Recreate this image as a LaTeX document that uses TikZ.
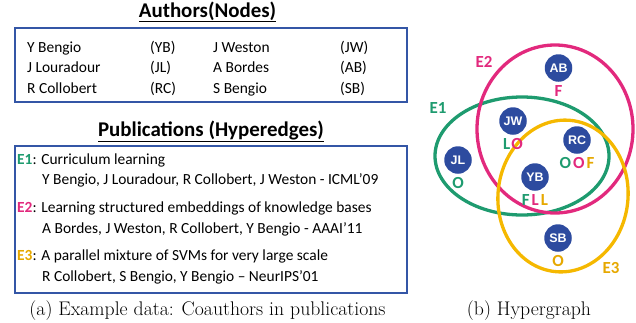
\documentclass[tikz,border=0pt]{standalone}
\usepackage{fontspec}
\usetikzlibrary{positioning}
\newfontfamily\calibri{Carlito}
\newfontfamily\vfont{Liberation Sans}
\definecolor{boxblue}{HTML}{3456A6}
\definecolor{vblue}{HTML}{2D4B9F}
\definecolor{eone}{HTML}{1E9B6F}
\definecolor{etwo}{HTML}{E2297D}
\definecolor{ethree}{HTML}{F5B800}
\definecolor{ethreetxt}{HTML}{E6A800}
\tikzset{
  txt/.style={anchor=base west, inner sep=0pt, font=\calibri\fontsize{15.5}{18}\selectfont},
  ttl/.style={anchor=base, inner sep=0pt, font=\calibri\fontsize{21}{24}\selectfont\bfseries},
  captxt/.style={anchor=base, inner sep=0pt, font=\rmfamily\fontsize{19.8}{22}\selectfont},
  frame/.style={draw=boxblue, line width=2.4bp},
  vert/.style={circle, fill=vblue, minimum size=27.5bp, inner sep=0pt, text=white,
    font=\vfont\fontsize{12.5}{14}\selectfont\bfseries},
  vlab/.style={inner sep=0pt, font=\calibri\fontsize{17}{19}\selectfont\bfseries},
  hedge/.style={line width=3.3bp}
}
\newcommand{\ulined}[1]{\underline{#1}}
\begin{document}
\begin{tikzpicture}[x=1bp, y=-1bp]
\useasboundingbox (0,0) rectangle (636,322);

% ---- authors table
\node[ttl] (atitle) at (207.5,17) {\ulined{Authors(Nodes)}};
\node[frame, minimum width=392bp, minimum height=74bp, anchor=north west, inner sep=0pt] (abox) at (13.5,27) {};
\node[txt] (a1) at (27,52) {Y Bengio};
\node[txt] (a2) at (27,72.5) {J Louradour};
\node[txt] (a3) at (27,93) {R Collobert};
\node[txt] (b1) at (150,52) {(YB)};
\node[txt] (b2) at (150,72.5) {(JL)};
\node[txt] (b3) at (150,93) {(RC)};
\node[txt] (c1) at (213,52) {J Weston};
\node[txt] (c2) at (213,72.5) {A Bordes};
\node[txt] (c3) at (213,93) {S Bengio};
\node[txt] (d1) at (340,52) {(JW)};
\node[txt] (d2) at (340,72.5) {(AB)};
\node[txt] (d3) at (340,93) {(SB)};

% ---- publications table
\node[ttl] (ptitle) at (211,136) {\ulined{Publications (Hyperedges)}};
\node[frame, minimum width=392bp, minimum height=147bp, anchor=north west, inner sep=0pt] (pbox) at (13.5,144.5) {};
\node[txt] (p1) at (17,164) {{\color{eone}\bfseries E1}: Curriculum learning};
\node[txt] (p1a) at (42,184) {Y Bengio, J Louradour, R Collobert, J Weston - ICML’09};
\node[txt] (p2) at (17,212) {{\color{etwo}\bfseries E2}: Learning structured embeddings of knowledge bases};
\node[txt] (p2a) at (42,233) {A Bordes, J Weston, R Collobert, Y Bengio - AAAI’11};
\node[txt] (p3) at (17,260) {{\color{ethreetxt}\bfseries E3}: A parallel mixture of SVMs for very large scale};
\node[txt] (p3a) at (42,281) {R Collobert, S Bengio, Y Bengio – NeurIPS’01};

% ---- captions
\node[captxt] (capa) at (207.5,315) {(a) Example data: Coauthors in publications};
\node[captxt] (capb) at (529,315) {(b) Hypergraph};

% ---- hyperedges
\draw[hedge, eone] (522,156) ellipse [x radius=87bp, y radius=59bp];
\draw[hedge, etwo] (555,129) ellipse [x radius=78bp, y radius=84bp];
\draw[hedge, ethree, rotate around={-6:(563,196)}] (563,196) ellipse [x radius=65bp, y radius=76bp];

\node[vlab, text=eone] (l1) at (438,108) {E1};
\node[vlab, text=etwo] (l2) at (484,62) {E2};
\node[vlab, text=ethreetxt] (l3) at (611,268) {E3};

% ---- vertices
\node[vert] (AB) at (558.5,68) {AB};
\node[vert] (JW) at (513,121) {JW};
\node[vert] (RC) at (577,140) {RC};
\node[vert] (JL) at (458,160) {JL};
\node[vert] (YB) at (535,177) {YB};
\node[vert] (SB) at (558,238) {SB};

% ---- role letters below each vertex
\node[vlab, below=3bp of AB] (rAB) {\color{etwo}F};
\node[vlab, below=3bp of JW] (rJW) {\color{eone}L\kern1bp\color{etwo}O};
\node[vlab, below=3bp of RC] (rRC) {\color{eone}O\kern2bp\color{etwo}O\kern2bp\color{ethreetxt}F};
\node[vlab, below=3bp of JL] (rJL) {\color{eone}O};
\node[vlab, below=3bp of YB] (rYB) {\color{eone}F\kern2bp\color{etwo}L\kern2bp\color{ethreetxt}L};
\node[vlab, below=3bp of SB] (rSB) {\color{ethreetxt}O};
\end{tikzpicture}
\end{document}
